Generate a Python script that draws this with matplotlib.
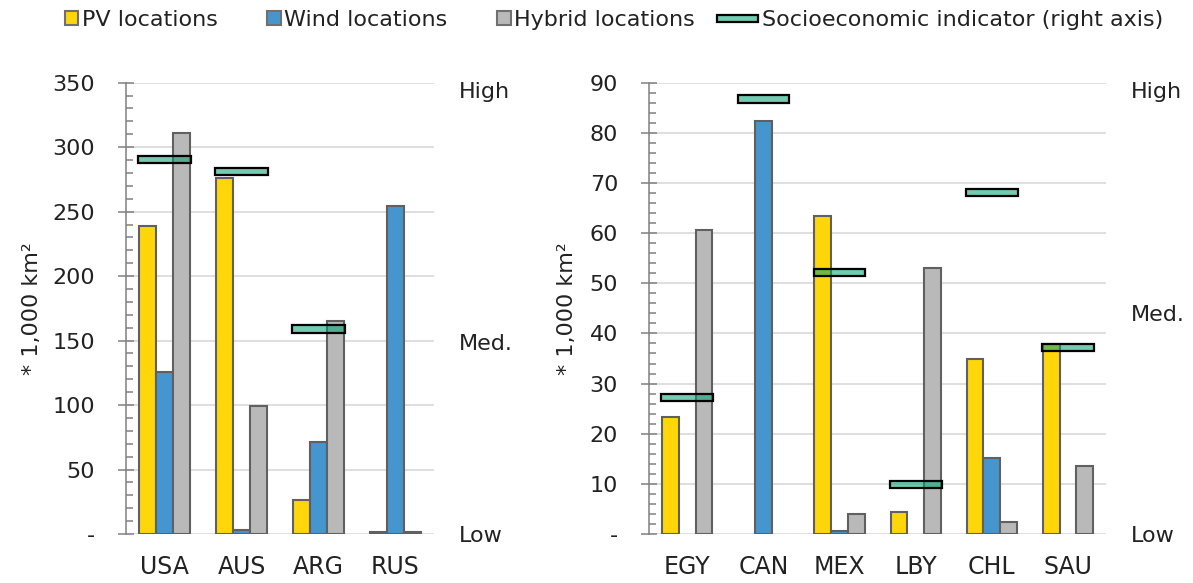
import numpy as np
import matplotlib
matplotlib.use("Agg")
import matplotlib.pyplot as plt
from matplotlib.patches import Rectangle
from matplotlib.legend_handler import HandlerBase

plt.rcParams['font.family'] = ['DejaVu Sans']

# ---------------- data ----------------
left_countries = ["USA", "AUS", "ARG", "RUS"]
left_pv = [239, 276, 26, 1.2]
left_wind = [126, 3, 71, 254]
left_hybrid = [311, 99, 165, 1.2]
left_socio = [0.829, 0.803, 0.454, np.nan]   # right axis, 0 = Low .. ~1 = High

right_countries = ["EGY", "CAN", "MEX", "LBY", "CHL", "SAU"]
right_pv = [23.4, 0, 63.4, 4.4, 34.9, 37.8]
right_wind = [0, 82.4, 0.5, 0, 15.1, 0]
right_hybrid = [60.6, 0, 3.9, 53.1, 2.4, 13.5]
right_socio = [0.303, 0.964, 0.580, 0.110, 0.757, 0.414]

left_yticks = [0, 50, 100, 150, 200, 250, 300, 350]
right_yticks = [0, 10, 20, 30, 40, 50, 60, 70, 80, 90]
socio_labels = ["Low", "Med.", "High"]
left_socio_pos = [0, 0.426, 0.984]
right_socio_pos = [0, 0.490, 0.984]

series_names = ["PV locations", "Wind locations", "Hybrid locations",
                "Socioeconomic indicator (right axis)"]

# ---------------- style ----------------
C_PV = "#FFD60A"
C_WIND = "#4596CF"
C_HYB = "#B9B9B9"
C_EDGE = "#606060"
C_SOCIO = (0.0, 0.63, 0.45, 0.55)
C_AXIS = "#808080"
C_GRID = "#D9D9D9"
C_TEXT = "#222222"
FS_TICK = 16
FS_CAT = 17
FS_LABEL = 16
FS_LEG = 16

W, H = 1193, 583
fig = plt.figure(figsize=(W / 100, H / 100), dpi=100)
ax1 = fig.add_axes([126 / W, 49 / H, 308 / W, 451.3 / H])
ax2 = fig.add_axes([649.3 / W, 49 / H, 456.7 / W, 451.3 / H])


def fmt(v, pos=None):
    return "-" if v == 0 else f"{v:g}"


def nz(a):
    a = np.asarray(a, dtype=float)
    return np.where(a == 0, np.nan, a)


def panel(ax, cats, pv, wind, hyb, socio, yticks, minor_step, spos, ylabel_x):
    x = np.arange(len(cats))
    bw = 0.22
    kw = dict(edgecolor=C_EDGE, linewidth=1.5, zorder=3)
    ax.bar(x - bw, nz(pv), bw, color=C_PV, **kw)
    ax.bar(x, nz(wind), bw, color=C_WIND, **kw)
    ax.bar(x + bw, nz(hyb), bw, color=C_HYB, **kw)
    ax.set_xlim(-0.5, len(cats) - 0.5)
    ax.set_ylim(yticks[0], yticks[-1])
    ax.set_yticks(yticks)
    ax.set_yticks(np.arange(yticks[0], yticks[-1] + 0.001, minor_step), minor=True)
    ax.yaxis.set_major_formatter(plt.FuncFormatter(fmt))
    ax.set_xticks(x)
    ax.set_xticklabels(cats)
    ax.tick_params(axis='x', length=0, pad=15, labelsize=FS_CAT, labelcolor=C_TEXT)
    ax.tick_params(axis='y', which='major', direction='inout', length=11,
                   width=1.1, color=C_AXIS, pad=17, labelsize=FS_TICK, labelcolor=C_TEXT)
    ax.tick_params(axis='y', which='minor', direction='in', length=5,
                   width=1.1, color=C_AXIS)
    for s in ['top', 'right', 'bottom']:
        ax.spines[s].set_visible(False)
    ax.spines['left'].set_color(C_AXIS)
    ax.spines['left'].set_linewidth(1.1)
    ax.grid(axis='y', which='major', color=C_GRID, linewidth=1.2, zorder=0)
    ax.set_axisbelow(True)
    ax.set_ylabel("* 1,000 km²", fontsize=FS_LABEL, color=C_TEXT)
    ax.yaxis.set_label_coords(ylabel_x, 0.5)

    axr = ax.twinx()
    axr.set_ylim(0, 1)
    axr.set_yticks(spos)
    axr.set_yticklabels(socio_labels)
    axr.tick_params(axis='y', length=0, pad=18, labelsize=FS_TICK, labelcolor=C_TEXT)
    for s in axr.spines.values():
        s.set_visible(False)
    hh = 0.016
    sv = np.array(socio, dtype=float)
    axr.bar(x, np.full(len(x), hh), 0.68, bottom=sv - hh / 2,
            facecolor=C_SOCIO, edgecolor="black", linewidth=1.6, zorder=5)
    return axr


panel(ax1, left_countries, left_pv, left_wind, left_hybrid, left_socio,
      left_yticks, 10, left_socio_pos, -0.273)
panel(ax2, right_countries, right_pv, right_wind, right_hybrid, right_socio,
      right_yticks, 2, right_socio_pos, -0.158)


# ---------------- legend ----------------
class SquareHandler(HandlerBase):
    def create_artists(self, legend, orig_handle, xdescent, ydescent,
                       width, height, fontsize, trans):
        s = 0.62 * fontsize
        r = Rectangle((-xdescent + width - s, -ydescent + (height - s) / 2), s, s,
                      facecolor=orig_handle.get_facecolor(), edgecolor="#707070",
                      linewidth=1.5, transform=trans)
        return [r]


class BarHandler(HandlerBase):
    def create_artists(self, legend, orig_handle, xdescent, ydescent,
                       width, height, fontsize, trans):
        h = 0.3 * fontsize
        r = Rectangle((-xdescent, -ydescent + (height - h) / 2), width, h,
                      facecolor=C_SOCIO, edgecolor="black", linewidth=1.6,
                      transform=trans)
        return [r]


hs = [Rectangle((0, 0), 1, 1, facecolor=c) for c in (C_PV, C_WIND, C_HYB)]
hsoc = Rectangle((0, 0), 1, 1, facecolor=C_SOCIO)
hmap = {hs[0]: SquareHandler(), hs[1]: SquareHandler(), hs[2]: SquareHandler(),
        hsoc: BarHandler()}
leg = fig.legend(hs + [hsoc], series_names, loc='center',
                 bbox_to_anchor=(600 / W, 1 - 20 / H),
                 ncol=4, frameon=False, fontsize=FS_LEG, handler_map=hmap,
                 handlelength=1.85, handletextpad=0.15, columnspacing=1.0,
                 borderpad=0, borderaxespad=0)
for t in leg.get_texts():
    t.set_color(C_TEXT)

fig.savefig("out.png", dpi=100)
